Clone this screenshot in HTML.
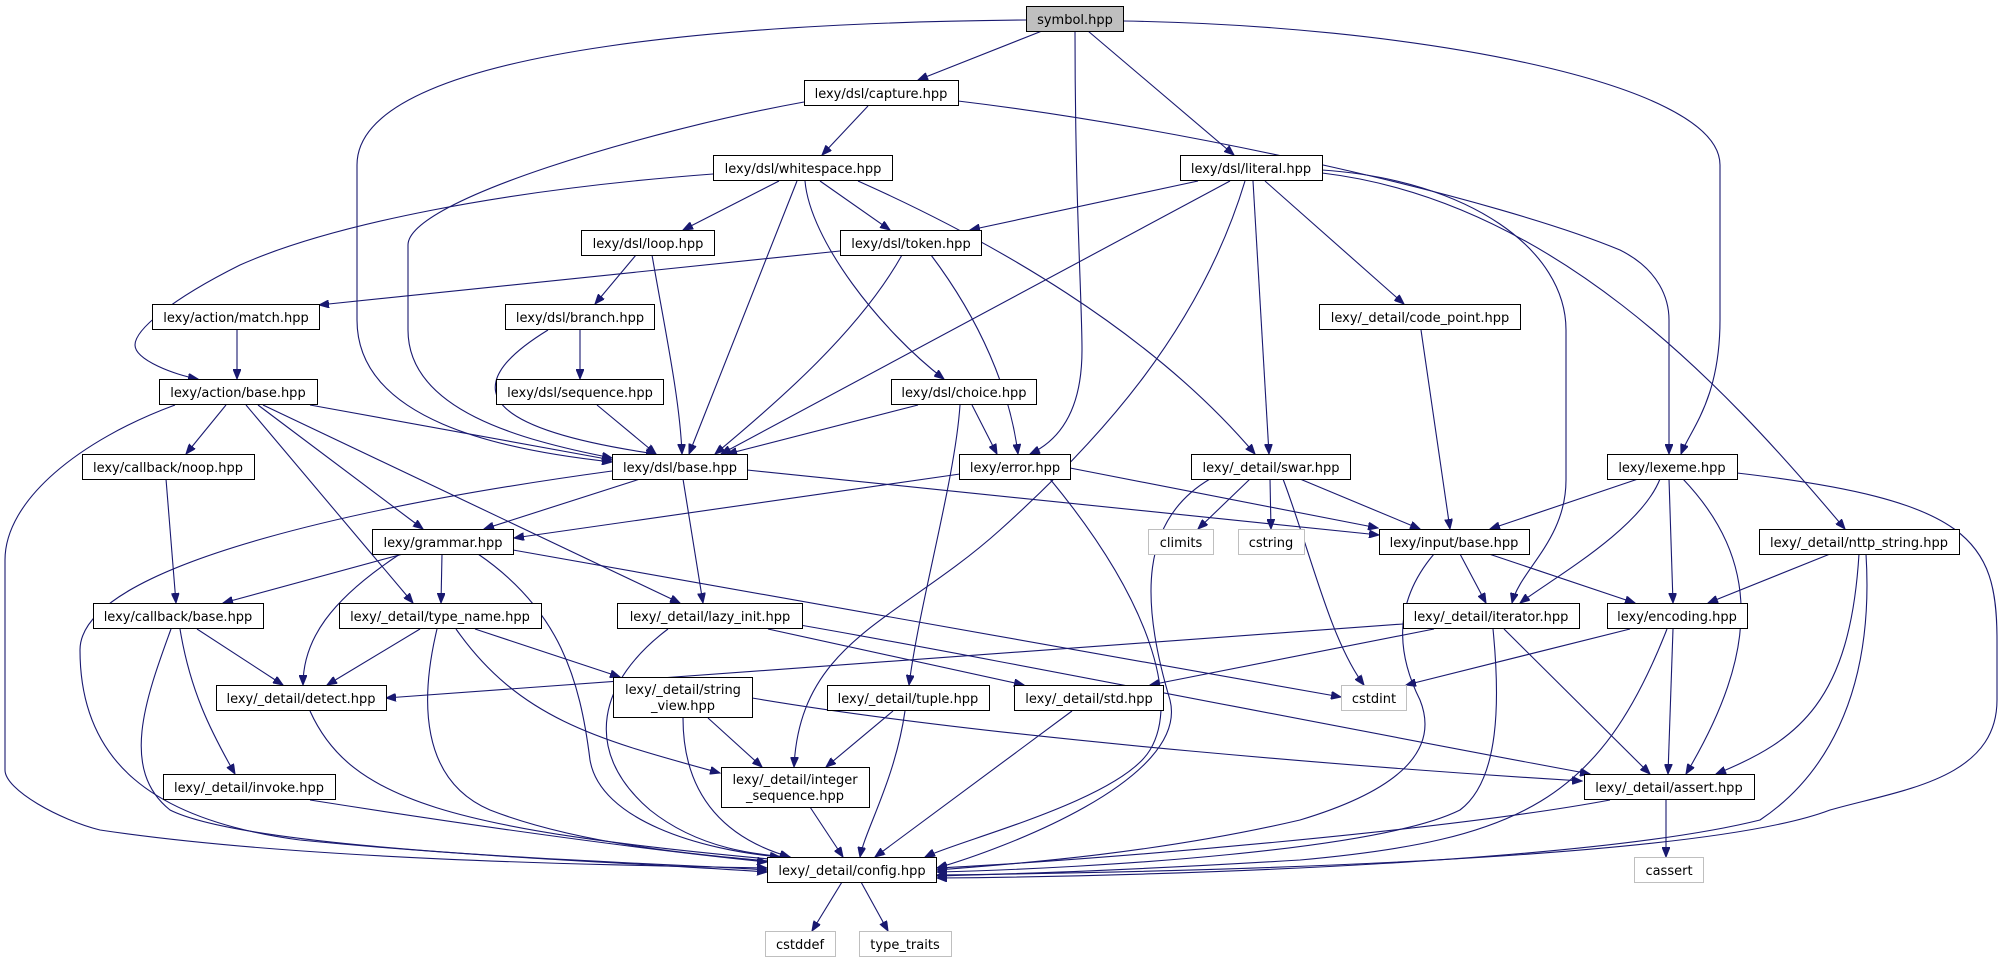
<!DOCTYPE html>
<html><head><meta charset="utf-8"><style>
html,body{margin:0;padding:0;background:#fff;}
svg{display:block;}
text{font-family:"DejaVu Sans",sans-serif;font-size:13px;fill:#000;text-anchor:middle;}
.n rect{fill:#fff;stroke:#000;stroke-width:1;}
.s rect{fill:#fff;stroke:#bfbfbf;stroke-width:1;}
.e path{fill:none;stroke:#191970;stroke-width:1.1;marker-end:url(#a);}
</style></head><body>
<svg width="2004" height="963" viewBox="0 0 2004 963" xmlns="http://www.w3.org/2000/svg">
<defs><marker id="a" markerUnits="userSpaceOnUse" markerWidth="11" markerHeight="8" refX="10" refY="4" orient="auto"><path d="M0,0 L10,4 L0,8 z" fill="#191970" stroke="#191970"/></marker></defs>
<g class="e">
<path d="M1042,31 L918,80"/>
<path d="M1026,20 C800,22 357,40 357,165 L357,320 C357,420 500,450 612,462"/>
<path d="M1075,31 C1075,200 1082,300 1082,350 C1082,410 1060,440 1030,454"/>
<path d="M1088,31 L1234,155"/>
<path d="M1123,21 C1400,25 1720,80 1720,165 L1720,320 C1720,400 1690,430 1681,454"/>
<path d="M868,106 L822,155"/>
<path d="M804,102 C650,130 408,200 408,245 L408,330 C408,410 520,440 612,458"/>
<path d="M958,101 C1200,130 1500,200 1620,250 C1660,270 1669,300 1669,320 L1669,454"/>
<path d="M713,174 C500,190 330,225 240,265 C170,300 135,330 135,345 C135,360 175,375 198,379"/>
<path d="M779,181 L683,230"/>
<path d="M820,181 L890,230"/>
<path d="M797,181 L689,454"/>
<path d="M805,181 C810,240 880,330 944,379"/>
<path d="M858,181 C990,240 1150,330 1255,454"/>
<path d="M1198,181 L970,230"/>
<path d="M1230,181 L721,454"/>
<path d="M1245,181 C1200,330 1100,440 1000,530 C900,620 800,640 794,767"/>
<path d="M1253,181 L1269,454"/>
<path d="M1265,181 L1404,304"/>
<path d="M1322,170 C1470,180 1566,250 1566,330 L1566,480 C1566,540 1520,570 1512,603"/>
<path d="M1322,173 C1550,200 1720,380 1845,529"/>
<path d="M636,255 L595,304"/>
<path d="M652,255 C665,330 680,400 682,454"/>
<path d="M840,251 L319,305"/>
<path d="M902,255 C860,330 780,400 715,454"/>
<path d="M931,255 C980,320 1010,390 1018,454"/>
<path d="M237,330 L237,379"/>
<path d="M580,330 L580,379"/>
<path d="M548,330 C450,390 490,430 656,454"/>
<path d="M597,405 L656,454"/>
<path d="M918,405 L727,454"/>
<path d="M972,405 L997,454"/>
<path d="M960,405 C955,480 920,600 909,685"/>
<path d="M226,405 L186,454"/>
<path d="M310,405 L612,460"/>
<path d="M258,405 L423,529"/>
<path d="M246,405 L413,603"/>
<path d="M263,405 L680,603"/>
<path d="M175,405 C80,440 5,500 5,560 L5,770 C5,790 60,820 100,830 C300,860 600,865 767,868"/>
<path d="M166,479 L176,603"/>
<path d="M640,479 L484,529"/>
<path d="M683,479 L703,603"/>
<path d="M747,470 L1379,535"/>
<path d="M612,471 C400,500 80,560 80,650 C80,760 150,820 300,840 C500,860 700,865 767,870"/>
<path d="M960,474 L514,538"/>
<path d="M1070,468 L1378,528"/>
<path d="M1050,479 C1150,600 1180,700 1150,750 C1120,800 960,840 925,857"/>
<path d="M1250,479 L1198,529"/>
<path d="M1270,479 L1271,529"/>
<path d="M1283,479 C1310,550 1330,640 1364,685"/>
<path d="M1300,479 L1420,529"/>
<path d="M1210,479 C1140,520 1140,600 1170,700 C1190,780 1000,850 937,868"/>
<path d="M1638,479 L1490,529"/>
<path d="M1660,479 C1640,530 1550,580 1520,603"/>
<path d="M1669,479 L1673,603"/>
<path d="M1683,479 C1760,560 1760,650 1686,774"/>
<path d="M1737,473 C1970,500 1997,540 1997,640 L1997,700 C1997,780 1900,790 1830,810 C1700,860 1200,872 937,875"/>
<path d="M1421,330 L1450,529"/>
<path d="M403,554 L223,603"/>
<path d="M442,554 L441,603"/>
<path d="M400,554 C330,600 303,640 303,685"/>
<path d="M478,554 C560,610 580,680 590,760 C600,820 700,850 780,857"/>
<path d="M513,550 L1341,697"/>
<path d="M197,629 L283,685"/>
<path d="M180,629 C190,690 210,730 235,774"/>
<path d="M171,629 C145,700 120,770 170,810 C250,850 600,860 767,872"/>
<path d="M420,629 L327,685"/>
<path d="M475,629 L620,677"/>
<path d="M456,629 C520,720 600,740 720,773"/>
<path d="M437,629 C420,700 420,780 490,810 C580,845 700,855 780,862"/>
<path d="M768,629 L1024,685"/>
<path d="M800,625 C1000,660 1300,720 1590,774"/>
<path d="M668,629 C600,680 580,750 650,810 C700,850 760,855 790,857"/>
<path d="M310,711 C350,800 450,830 780,860"/>
<path d="M708,718 L762,767"/>
<path d="M752,698 C1000,740 1400,770 1582,781"/>
<path d="M683,718 C683,800 730,840 790,857"/>
<path d="M893,711 L826,767"/>
<path d="M905,711 C895,780 865,830 860,857"/>
<path d="M310,800 C500,830 650,850 767,862"/>
<path d="M810,807 L843,857"/>
<path d="M1072,711 L875,857"/>
<path d="M1460,554 L1486,603"/>
<path d="M1489,554 L1635,603"/>
<path d="M1434,554 C1395,600 1395,650 1420,700 C1440,750 1400,790 1300,820 C1150,855 1000,865 937,870"/>
<path d="M1403,624 L386,698"/>
<path d="M1434,629 L1150,685"/>
<path d="M1504,629 L1650,774"/>
<path d="M1493,629 C1500,700 1500,780 1460,810 C1380,850 1100,868 937,872"/>
<path d="M1630,629 L1406,685"/>
<path d="M1673,629 L1668,774"/>
<path d="M1667,629 C1600,800 1520,840 1300,860 C1100,872 1000,874 937,876"/>
<path d="M1830,554 L1708,603"/>
<path d="M1859,554 C1850,700 1800,740 1716,774"/>
<path d="M1866,554 C1875,700 1820,780 1760,820 C1600,860 1200,876 937,878"/>
<path d="M1610,800 C1450,830 1100,860 937,868"/>
<path d="M1666,800 L1666,857"/>
<path d="M842,882 L812,931"/>
<path d="M861,882 L888,931"/>
</g>
<g class="n">
<rect x="1026.5" y="6.5" width="97" height="25" style="fill:#bfbfbf"/><text x="1075" y="24">symbol.hpp</text>
<rect x="804.5" y="80.5" width="154" height="25"/><text x="881" y="98">lexy/dsl/capture.hpp</text>
<rect x="713.5" y="155.5" width="179" height="25"/><text x="803" y="173">lexy/dsl/whitespace.hpp</text>
<rect x="1180.5" y="155.5" width="142" height="25"/><text x="1251" y="173">lexy/dsl/literal.hpp</text>
<rect x="581.5" y="230.5" width="133" height="25"/><text x="648" y="248">lexy/dsl/loop.hpp</text>
<rect x="840.5" y="230.5" width="141" height="25"/><text x="911" y="248">lexy/dsl/token.hpp</text>
<rect x="152.5" y="304.5" width="167" height="25"/><text x="236" y="322">lexy/action/match.hpp</text>
<rect x="505.5" y="304.5" width="149" height="25"/><text x="580" y="322">lexy/dsl/branch.hpp</text>
<rect x="1319.5" y="304.5" width="201" height="25"/><text x="1420" y="322">lexy/_detail/code_point.hpp</text>
<rect x="159.5" y="379.5" width="158" height="25"/><text x="238" y="397">lexy/action/base.hpp</text>
<rect x="496.5" y="379.5" width="167" height="25"/><text x="580" y="397">lexy/dsl/sequence.hpp</text>
<rect x="891.5" y="379.5" width="145" height="25"/><text x="964" y="397">lexy/dsl/choice.hpp</text>
<rect x="82.5" y="454.5" width="172" height="25"/><text x="168" y="472">lexy/callback/noop.hpp</text>
<rect x="612.5" y="454.5" width="135" height="25"/><text x="680" y="472">lexy/dsl/base.hpp</text>
<rect x="959.5" y="454.5" width="111" height="25"/><text x="1015" y="472">lexy/error.hpp</text>
<rect x="1191.5" y="454.5" width="159" height="25"/><text x="1271" y="472">lexy/_detail/swar.hpp</text>
<rect x="1607.5" y="454.5" width="130" height="25"/><text x="1672" y="472">lexy/lexeme.hpp</text>
<rect x="372.5" y="529.5" width="141" height="25"/><text x="443" y="547">lexy/grammar.hpp</text>
<rect x="1379.5" y="529.5" width="150" height="25"/><text x="1454" y="547">lexy/input/base.hpp</text>
<rect x="1759.5" y="529.5" width="200" height="25"/><text x="1859" y="547">lexy/_detail/nttp_string.hpp</text>
<rect x="93.5" y="603.5" width="170" height="25"/><text x="178" y="621">lexy/callback/base.hpp</text>
<rect x="339.5" y="603.5" width="202" height="25"/><text x="440" y="621">lexy/_detail/type_name.hpp</text>
<rect x="617.5" y="603.5" width="185" height="25"/><text x="710" y="621">lexy/_detail/lazy_init.hpp</text>
<rect x="1403.5" y="603.5" width="176" height="25"/><text x="1491" y="621">lexy/_detail/iterator.hpp</text>
<rect x="1607.5" y="603.5" width="140" height="25"/><text x="1677" y="621">lexy/encoding.hpp</text>
<rect x="216.5" y="685.5" width="170" height="25"/><text x="301" y="703">lexy/_detail/detect.hpp</text>
<rect x="613.5" y="677.5" width="139" height="40"/><text x="683" y="694">lexy/_detail/string</text><text x="683" y="710">_view.hpp</text>
<rect x="827.5" y="685.5" width="162" height="25"/><text x="908" y="703">lexy/_detail/tuple.hpp</text>
<rect x="1014.5" y="685.5" width="149" height="25"/><text x="1089" y="703">lexy/_detail/std.hpp</text>
<rect x="163.5" y="774.5" width="172" height="25"/><text x="249" y="792">lexy/_detail/invoke.hpp</text>
<rect x="721.5" y="767.5" width="148" height="40"/><text x="795" y="784">lexy/_detail/integer</text><text x="795" y="800">_sequence.hpp</text>
<rect x="1584.5" y="774.5" width="170" height="25"/><text x="1669" y="792">lexy/_detail/assert.hpp</text>
<rect x="767.5" y="857.5" width="169" height="25"/><text x="852" y="875">lexy/_detail/config.hpp</text>
</g>
<g class="s">
<rect x="1148.5" y="529.5" width="65" height="25"/><text x="1181" y="547">climits</text>
<rect x="1238.5" y="529.5" width="66" height="25"/><text x="1271" y="547">cstring</text>
<rect x="1341.5" y="685.5" width="65" height="25"/><text x="1374" y="703">cstdint</text>
<rect x="1634.5" y="857.5" width="69" height="25"/><text x="1669" y="875">cassert</text>
<rect x="765.5" y="931.5" width="70" height="25"/><text x="800" y="949">cstddef</text>
<rect x="859.5" y="931.5" width="92" height="25"/><text x="905" y="949">type_traits</text>
</g>
</svg>
</body></html>
